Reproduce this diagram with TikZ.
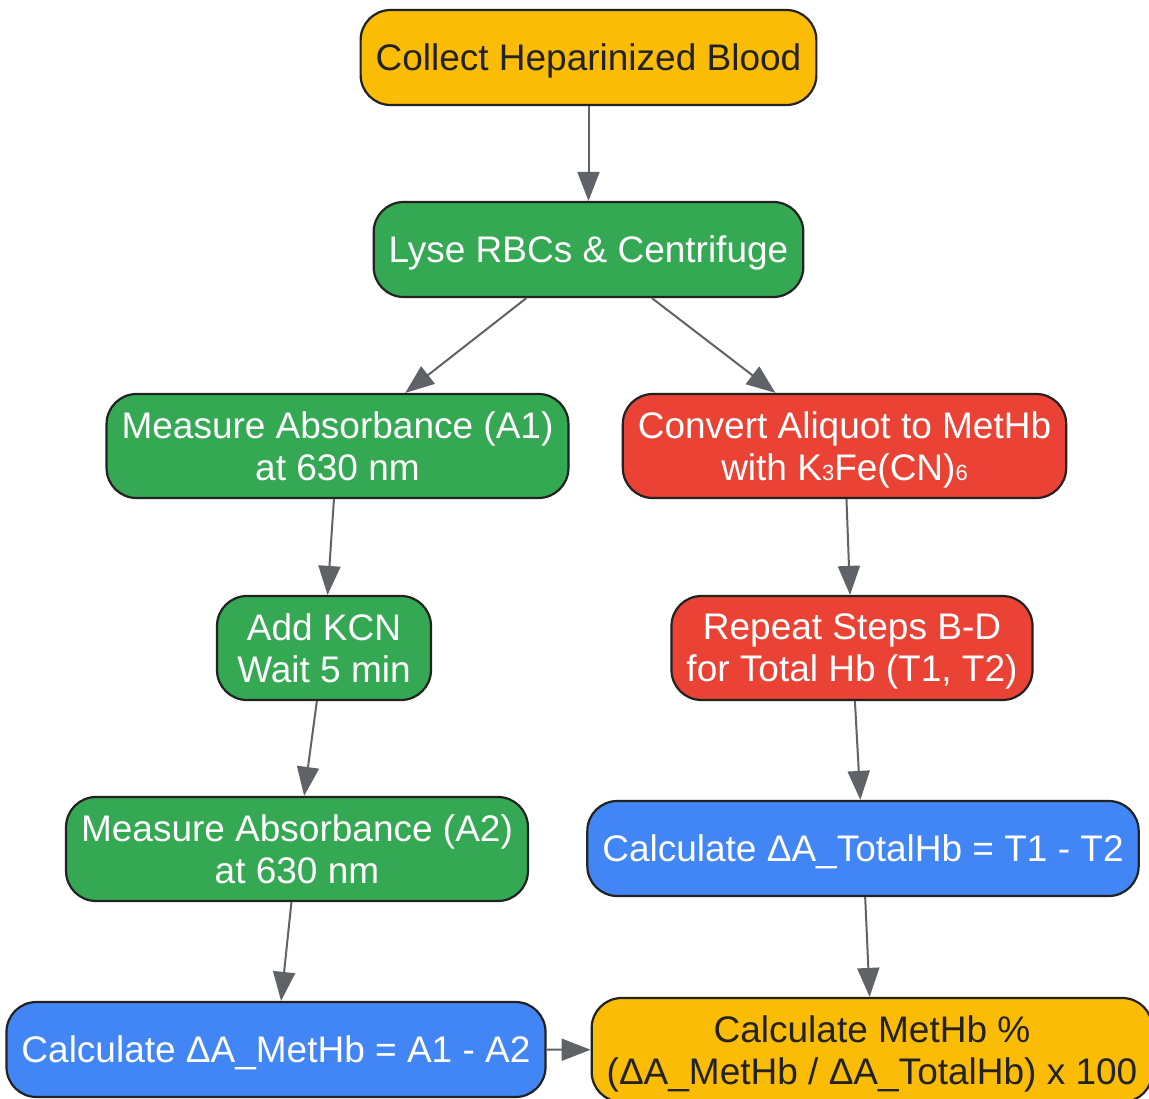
\documentclass[tikz,border=0pt]{standalone}
\usepackage{fontspec}
\setmainfont{Liberation Sans}
\usetikzlibrary{arrows.meta}
\definecolor{gyellow}{HTML}{FBBC05}
\definecolor{ggreen}{HTML}{34A853}
\definecolor{gred}{HTML}{EA4335}
\definecolor{gblue}{HTML}{4285F4}
\definecolor{edgegray}{HTML}{5F6368}
\definecolor{inkdark}{HTML}{222222}
\newcommand{\lowdigit}[1]{{\fontsize{22}{22}\selectfont #1}}
\tikzset{
  stepnode/.style={draw=inkdark, line width=2.2pt, rounded corners=30pt, align=center,
    inner xsep=15pt, text depth=0pt, minimum height=95pt, font=\fontsize{37}{42}\selectfont},
  twoline/.style={minimum height=104pt},
  yellowbox/.style={stepnode, fill=gyellow, text=inkdark},
  greenbox/.style={stepnode, fill=ggreen, text=white},
  redbox/.style={stepnode, fill=gred, text=white},
  bluebox/.style={stepnode, fill=gblue, text=white},
  arr/.style={draw=edgegray, line width=2pt, -{Triangle[length=29pt,width=22pt]}}
}
\begin{document}
\begin{tikzpicture}[x=1pt,y=1pt]
  \useasboundingbox[fill=white] (0,0) rectangle (1149,-1099);
  % left column
  \node[yellowbox] (collect) at (588.5,-57.5) {Collect Heparinized Blood};
  \node[greenbox] (lyse) at (588.5,-249.5) {Lyse RBCs \& Centrifuge};
  \node[greenbox, twoline] (measureone) at (337.5,-446) {Measure Absorbance (A1)\\at 630 nm};
  \node[greenbox, twoline, minimum width=214pt] (addkcn) at (324,-648) {Add KCN\\Wait 5 min};
  \node[greenbox, twoline] (measuretwo) at (297,-849) {Measure Absorbance (A2)\\at 630 nm};
  \node[bluebox] (calcmethb) at (276,-1049.5) {Calculate ΔA\_MetHb = A1 - A2};
  % right column
  \node[redbox, twoline] (convert) at (844.5,-446) {Convert Aliquot to MetHb\\with K\lowdigit{3}Fe(CN)\lowdigit{6}};
  \node[redbox, twoline] (repeat) at (852,-648) {Repeat Steps B-D\\for Total Hb (T1, T2)};
  \node[bluebox] (calctotal) at (863,-848.5) {Calculate ΔA\_TotalHb = T1 - T2};
  \node[yellowbox, twoline] (final) at (872,-1050) {Calculate MetHb \%\\(ΔA\_MetHb / ΔA\_TotalHb) x 100};

  \draw[arr] (collect) -- (lyse);
  \draw[arr] (lyse) -- (measureone);
  \draw[arr] (lyse) -- (convert);
  \draw[arr] (measureone) -- (addkcn);
  \draw[arr] (addkcn) -- (measuretwo);
  \draw[arr] (measuretwo) -- (calcmethb);
  \draw[arr] (convert) -- (repeat);
  \draw[arr] (repeat) -- (calctotal);
  \draw[arr] (calctotal) -- (final);
  \draw[arr] (calcmethb) -- (final);
\end{tikzpicture}
\end{document}
